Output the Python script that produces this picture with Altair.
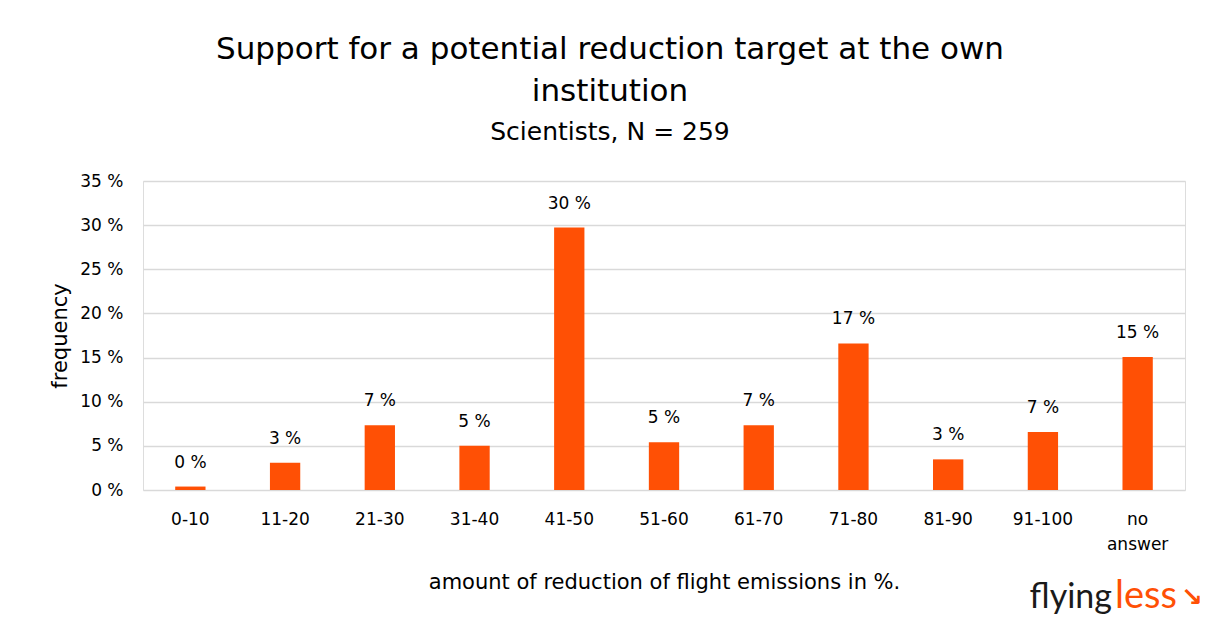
import altair as alt
import pandas as pd

categories = ["0-10", "11-20", "21-30", "31-40", "41-50", "51-60",
              "61-70", "71-80", "81-90", "91-100", "no answer"]
share = [0.39, 3.09, 7.34, 5.02, 29.73, 5.41, 7.34, 16.60, 3.47, 6.56, 15.06]
bar_labels = ["0 %", "3 %", "7 %", "5 %", "30 %", "5 %", "7 %", "17 %", "3 %", "7 %", "15 %"]
y_ticks = [0, 5, 10, 15, 20, 25, 30, 35]

FONT = "DejaVu Sans"
ORANGE = "#ff5005"
GRID = "#d9d9d9"

df = pd.DataFrame({"cat": categories, "share": share, "lab": bar_labels})

x_enc = alt.X(
    "cat:N", sort=categories,
    scale=alt.Scale(paddingInner=0.68, paddingOuter=0.34),
    axis=alt.Axis(
        title="amount of reduction of flight emissions in %.",
        labelAngle=0, labelFontSize=17, labelColor="#000", labelFont=FONT,
        labelPadding=21, ticks=False, domain=False,
        labelExpr="datum.label == 'no answer' ? ['no', 'answer'] : datum.label",
        labelLineHeight=25,
        titleFontSize=21, titleFont=FONT, titleFontWeight="normal", titleColor="#000",
        titlePadding=19,
    ),
)
y_enc = alt.Y(
    "share:Q",
    scale=alt.Scale(domain=[0, 35], nice=False),
    axis=alt.Axis(
        values=y_ticks, labelExpr="datum.value + ' %'",
        title="frequency", labelFontSize=17, labelColor="#000", labelFont=FONT,
        labelPadding=20, ticks=False, domain=False,
        grid=True, gridColor=GRID, gridWidth=1.6,
        titleFontSize=21, titleFont=FONT, titleFontWeight="normal", titleColor="#000",
        titlePadding=9,
    ),
)

base = alt.Chart(df)
bars = base.mark_bar(color=ORANGE).encode(x=x_enc, y=y_enc)
texts = base.mark_text(
    font=FONT, fontSize=17, color="#000", baseline="bottom", dy=-15
).encode(x=alt.X("cat:N", sort=categories), y="share:Q", text="lab:N")

logo_df1 = pd.DataFrame({"t": ["flying"]})
logo_df2 = pd.DataFrame({"t": ["less"]})
logo_df3 = pd.DataFrame({"t": ["\u2198"]})
logo1 = alt.Chart(logo_df1).mark_text(
    font="Lato", fontSize=34, color="#1a1a1a", align="right", baseline="alphabetic"
).encode(x=alt.value(969), y=alt.value(427), text="t:N")
logo2 = alt.Chart(logo_df2).mark_text(
    font="Lato", fontSize=38, color=ORANGE, align="left", baseline="alphabetic"
).encode(x=alt.value(972), y=alt.value(427), text="t:N")
logo3 = alt.Chart(logo_df3).mark_text(
    font="DejaVu Sans", fontSize=26, fontWeight="bold", color=ORANGE,
    align="left", baseline="alphabetic"
).encode(x=alt.value(1038), y=alt.value(425), text="t:N")

chart = alt.layer(bars, texts, logo1, logo2, logo3).properties(
    width=1042, height=309,
    padding={"left": 135, "top": 173, "right": 19, "bottom": 125},
    autosize=alt.AutoSizeParams(type="none"),
    title=alt.TitleParams(
        text=["Support for a potential reduction target at the own", "institution"],
        subtitle="Scientists, N = 259",
        font=FONT, fontSize=31, fontWeight="normal", color="#000",
        subtitleFont=FONT, subtitleFontSize=25, subtitleColor="#000",
        lineHeight=42, subtitlePadding=12, anchor="middle", dx=-54, offset=26,
    ),
).configure_view(stroke=None).configure(background="white")

chart.save("out.html", embed_options={"renderer": "svg", "actions": False})
